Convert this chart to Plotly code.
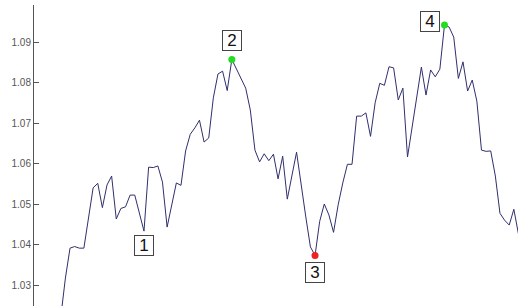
import plotly.graph_objects as go

# sample index of each vertex and its value
idx = [-1, 0, 1, 2, 3, 4, 6, 7, 8, 9, 10, 11, 12, 13, 14, 15, 17, 18, 19, 20,
       21, 22, 24, 25, 26, 27, 28, 29, 30, 31, 32, 33, 34, 35, 36, 37, 38, 39, 40,
       41, 42, 43, 44, 45, 46, 47, 48, 50, 52, 53, 54, 55, 56, 57, 58, 59, 60, 61,
       62, 63, 64, 65, 66, 67, 68, 69, 70, 71, 72, 73, 74, 77, 78, 79, 80, 81, 82,
       83, 84, 85, 86, 87, 88, 89, 90, 91, 92, 93, 94, 95, 96, 97, 98]
price = [1.0221, 1.0317, 1.0391, 1.0395, 1.0391, 1.0391, 1.0540, 1.0551, 1.0491,
         1.0547, 1.0569, 1.0463, 1.0489, 1.0493, 1.0522, 1.0522, 1.0433, 1.0591,
         1.0590, 1.0594, 1.0554, 1.0443, 1.0552, 1.0546, 1.0631, 1.0672, 1.0688,
         1.0707, 1.0653, 1.0663, 1.0762, 1.0821, 1.0828, 1.0780, 1.0857, 1.0833,
         1.0809, 1.0786, 1.0732, 1.0633, 1.0604, 1.0624, 1.0607, 1.0623, 1.0562,
         1.0618, 1.0512, 1.0628, 1.0468, 1.0394, 1.0373, 1.0457, 1.0500, 1.0473,
         1.0430, 1.0498, 1.0552, 1.0598, 1.0598, 1.0717, 1.0717, 1.0725, 1.0667,
         1.0750, 1.0798, 1.0793, 1.0839, 1.0836, 1.0757, 1.0786, 1.0616, 1.0838,
         1.0769, 1.0831, 1.0814, 1.0833, 1.0942, 1.0937, 1.0912, 1.0810, 1.0851,
         1.0779, 1.0806, 1.0754, 1.0633, 1.0630, 1.0631, 1.0569, 1.0477, 1.0460,
         1.0448, 1.0487, 1.0426]

# labelled points
label_text = ["1", "2", "3", "4"]
label_idx = [17, 36, 54, 82]
label_dot = [None, "#22dd22", "#ee2222", "#22dd22"]
label_xshift = [0, 0, 0, -14.5]
label_yshift = [-14, 18.5, -17.5, 3.7]

y_ticks = [1.03, 1.04, 1.05, 1.06, 1.07, 1.08, 1.09]

lookup = dict(zip(idx, price))

fig = go.Figure()
fig.add_trace(go.Scatter(x=idx, y=price, mode="lines",
                         line=dict(color="#2f2f6e", width=1),
                         hoverinfo="skip", showlegend=False))

for t, i, c, xs, ys in zip(label_text, label_idx, label_dot, label_xshift, label_yshift):
    if c is not None:
        fig.add_trace(go.Scatter(x=[i], y=[lookup[i]], mode="markers",
                                 marker=dict(color=c, size=7, line=dict(width=0)),
                                 showlegend=False, hoverinfo="skip", cliponaxis=False))
    fig.add_annotation(x=i, y=lookup[i], text=t, showarrow=False,
                       xshift=xs, yshift=ys,
                       font=dict(family="Liberation Sans, Arial", size=17, color="#111"),
                       bgcolor="white", bordercolor="#444", borderwidth=1,
                       borderpad=2, width=14, height=15)

fig.update_layout(
    width=518, height=306,
    margin=dict(l=34, r=0, t=5, b=0, autoexpand=False),
    paper_bgcolor="white", plot_bgcolor="white",
    hovermode=False,
    xaxis=dict(range=[-6.792, 97.90], visible=False, showgrid=False, zeroline=False),
    yaxis=dict(range=[1.024815, 1.099136], tickvals=y_ticks,
               ticktext=[f"{v:.2f}" for v in y_ticks],
               showgrid=False, zeroline=False, showline=True,
               linecolor="#555", linewidth=1, ticks="inside", ticklen=5,
               tickcolor="#555", tickfont=dict(family="Liberation Sans, Arial", size=10, color="#555")),
)

fig.write_html("out.html", config={"displayModeBar": False, "staticPlot": True},
               post_script="document.body.style.margin='0';document.body.style.overflow='hidden';")
